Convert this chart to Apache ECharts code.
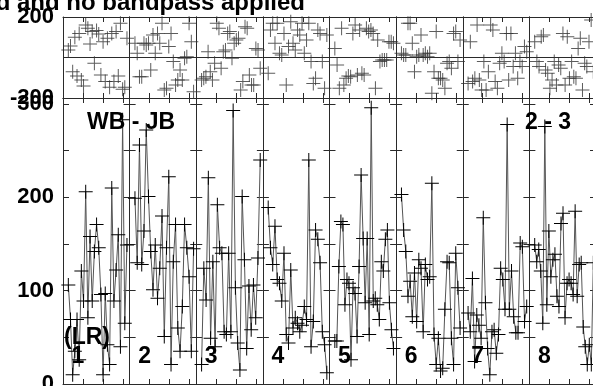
<!DOCTYPE html>
<html><head><meta charset="utf-8">
<script src="https://cdn.jsdelivr.net/npm/echarts@6/dist/echarts.min.js"></script>
<style>html,body{margin:0;padding:0;background:#fff}#c{width:593px;height:386px}</style>
</head><body><div id="c"></div><script>
// ---- data ----
const segLabels = ['1','2','3','4','5','6','7','8'];
const amp1 = [106,69,10,35,69,26,121,89,206,71,158,89,142,171,146,96,10,97,42,21,210,89,122,160,40,283,65,149];
const amp2 = [199,130,256,128,164,272,201,142,101,149,92,124,180,51,146,222,21,131,171,60,35,83,171,146,115,35,145];
const amp3 = [21,124,90,221,49,131,40,192,146,140,56,53,140,56,293,103,44,15,201,133,38,105,58,106,71,135,240];
const amp4 = [189,146,128,169,112,108,89,140,53,44,122,60,71,65,56,63,83,69,240,40,67,165,155,130,56,42,12];
const amp5 = [46,46,126,174,171,85,112,108,26,103,97,51,126,224,156,87,156,53,296,89,92,85,69,131,121,155,165,87,58,38];
const amp6 = [203,165,142,94,110,72,119,67,133,124,56,128,112,115,215,53,21,49,14,17,80,131,130,49,21,140,103,60];
const amp7 = [76,56,113,24,74,63,49,178,87,38,10,56,58,33,53,124,112,80,278,80,121,72,55,55,151,147,67,83];
const amp8 = [149,131,144,121,65,276,85,164,115,133,139,94,83,172,183,71,108,112,108,96,185,94,128,130,61,40,21,42,21,130];
const phase1 = [37,57,-70,100,-91,119,-111,-141,161,144,67,128,-29,133,116,-86,78,-119,95,-147,119,-119,128,-91,169,-157,-147,95];
const phase2 = [70,21,-95,-95,70,62,70,-62,111,21,119,70,169,-160,-152,54,119,-20,-136,-111,-62,-111,-4,4,169,78,-169];
const phase3 = [-111,-103,-95,29,-70,-111,-29,169,144,-53,29,37,119,128,-4,70,86,95,-160,-119,152,144,-86,-136,-136,45,37,-53];
const phase4 = [-78,136,169,70,169,21,12,119,-136,54,177,70,37,136,111,169,21,86,169,-20,-128,-103,136,119,-20,-152,111];
const phase5 = [45,-37,-152,144,-136,-103,-91,-95,119,161,-86,136,-78,-86,144,128,136,119,-152,86,-20,-12,-12,-12,78,78,70];
const phase6 = [21,12,12,169,169,70,-70,4,12,111,12,21,4,21,-177,-70,128,-103,-103,-111,-152,-29,-20,-53,119,128,-20,86];
const phase7 = [-128,78,-119,-103,161,-111,-160,-20,-160,-70,161,136,-119,-152,-29,21,-20,119,-111,119,-45,21,-103,-20,-45,54,29];
const phase8 = [78,-20,-45,103,111,-62,-78,-152,-111,-20,-136,-37,-53,119,-136,103,-103,-20,-95,-103,45,95,-160,-29,-45,78,185,-70];
const ampTickLabels = [0,100,200,300];
const phaseTickLabels = [-200,200];
const titleText = 'Delay corrected and no bandpass applied';
const leftLabel = 'WB - JB';
const rightLabel = '2 - 3';
const polLabel = '(LR)';

// ---- layout ----
const amps = [amp1,amp2,amp3,amp4,amp5,amp6,amp7,amp8];
const phases = [phase1,phase2,phase3,phase4,phase5,phase6,phase7,phase8];
const X0 = 63, SW = 66.625;
const TOP_T = 17, TOP_H = 81, BOT_T = 98, BOT_H = 286;
const AMP_MAX = 306.4;
const FONT = '"Liberation Sans", Arial, Helvetica, sans-serif';
const LC = '#2a2a2a';
const cross = 'path://M-0.5,-7H0.5V-0.5H7V0.5H0.5V7H-0.5V0.5H-7V-0.5H-0.5Z';

const grid = [], xAxis = [], yAxis = [], series = [];
function pts(arr){
  const n = arr.length;
  return arr.map((v,i)=>[0.08 + i*0.88/(n-1), v]);
}
function addGrid(s, top, height, isAmp, data){
  const gi = grid.length;
  grid.push({left: X0 + s*SW, top: top, width: SW, height: height, containLabel:false, outerBoundsMode:'none'});
  const xa = xAxis.length;
  ['bottom','top'].forEach(pos=>{
    xAxis.push({gridIndex: gi, type:'value', min:0, max:1, interval:0.3, position:pos,
      axisLine:{show:true, onZero:false, lineStyle:{color:LC, width:1}},
      axisTick:{show:true, inside:true, length:5, lineStyle:{color:LC, width:1}},
      axisLabel:{show:false}, splitLine:{show:false}});
  });
  const ya = yAxis.length;
  ['left','right'].forEach(pos=>{
    const showLab = (s===0 && pos==='left');
    const lab = {show:showLab, margin:9, fontSize:22, fontWeight:'bold', color:'#000', fontFamily:FONT};
    const y = isAmp ? {
      min:0, max:AMP_MAX, interval:50,
      axisTick:{show:true, inside:true, length:6, lineStyle:{color:LC}},
      splitLine:{show:false},
      axisLabel:Object.assign({formatter: v => ampTickLabels.includes(v) ? String(v) : ''}, lab)
    } : {
      min:-200, max:200, interval:200,
      axisTick:{show:false},
      splitLine:{show: pos==='left', lineStyle:{color:LC, width:1}},
      axisLabel:Object.assign({formatter: v => phaseTickLabels.includes(v) ? String(v) : ''}, lab)
    };
    yAxis.push(Object.assign({gridIndex: gi, type:'value', position:pos,
      axisLine:{show:true, onZero:false, lineStyle:{color:LC, width:1}}}, y));
  });
  if (isAmp) {
    series.push({type:'line', xAxisIndex: xa, yAxisIndex: ya, data: pts(data), clip:false,
      symbol: cross, symbolSize: 14, showAllSymbol:true,
      lineStyle:{color:'#555', width:1}, itemStyle:{color:'#000'}, animation:false, silent:true});
  } else {
    series.push({type:'scatter', xAxisIndex: xa, yAxisIndex: ya, data: pts(data), clip:false,
      symbol: cross, symbolSize: 14, itemStyle:{color:'#333'}, animation:false, silent:true});
  }
}
for (let s=0; s<8; s++){
  addGrid(s, TOP_T, TOP_H, false, phases[s]);
  addGrid(s, BOT_T, BOT_H, true, amps[s]);
}

const txt = (x, y, text, align) => ({type:'text', x:x, y:y, z:100,
  style:{text:text, font:'bold 23px ' + FONT, fill:'#000', textAlign:align||'left', textVerticalAlign:'middle'}});
const graphic = [
  {type:'text', x:305, y:3, z:100, style:{text:titleText, font:'bold 24px ' + FONT, fill:'#000', textAlign:'right', textVerticalAlign:'middle'}},
  txt(87, 123, leftLabel),
  txt(525, 123, rightLabel),
  txt(64, 338, polLabel),
];
segLabels.forEach((l,s)=>{ graphic.push(txt(X0 + s*SW + 15, 357, l, 'center')); });

const chart = echarts.init(document.getElementById('c'), null, {renderer:'canvas'});
chart.setOption({animation:false, backgroundColor:'#fff', grid, xAxis, yAxis, series, graphic});
</script></body></html>
